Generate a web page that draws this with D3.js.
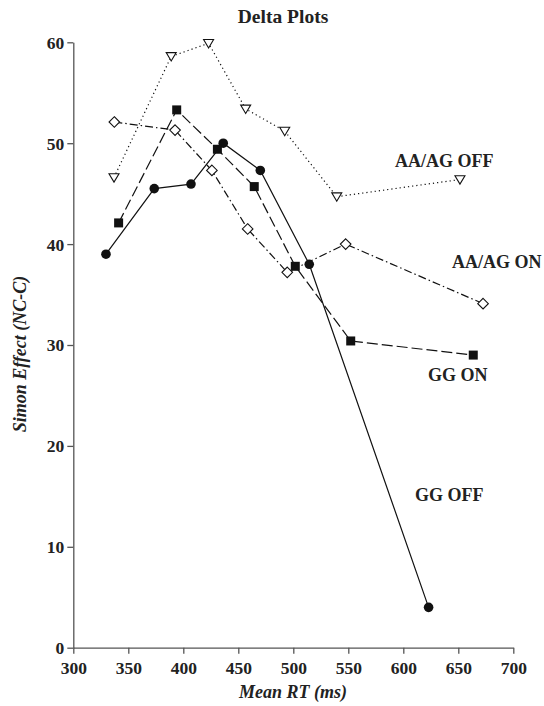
<!DOCTYPE html>
<html>
<head>
<meta charset="utf-8">
<script src="https://cdn.jsdelivr.net/npm/d3@7"></script>
<style>
  body { margin: 0; background: #fff; }
  svg text { font-family: "Liberation Serif", "Times New Roman", serif; font-weight: bold; fill: #222; }
</style>
</head>
<body>
<svg id="chart" width="544" height="706"></svg>
<script>
const xTicks = [300, 350, 400, 450, 500, 550, 600, 650, 700];
const yTicks = [0, 10, 20, 30, 40, 50, 60];

const ggOffRT = [329.7, 373.6, 407, 436.3, 470, 514.5, 623];
const ggOffEffect = [39.0, 45.5, 45.95, 50.0, 47.3, 38.0, 4.0];

const ggOnRT = [341.2, 394, 431, 464.5, 501.8, 552.2, 663.6];
const ggOnEffect = [42.1, 53.3, 49.4, 45.7, 37.8, 30.4, 29.0];

const aaOnRT = [337.3, 392.5, 426, 458.5, 494.5, 547.6, 672.5];
const aaOnEffect = [52.1, 51.3, 47.3, 41.5, 37.2, 40.0, 34.1];

const aaOffRT = [337, 389, 423, 456.7, 492.2, 539.5, 651.5];
const aaOffEffect = [46.6, 58.6, 59.9, 53.4, 51.2, 44.7, 46.4];

const seriesNames = ["GG OFF", "GG ON", "AA/AG ON", "AA/AG OFF"];

const svg = d3.select("#chart");

const x = d3.scaleLinear().domain([300, 700]).range([73.3, 513.3]);
const y = d3.scaleLinear().domain([0, 60]).range([647.7, 42.3]);

const series = [
  { name: seriesNames[0], rt: ggOffRT, eff: ggOffEffect, dash: null, marker: "circle", label: [610.6, 14.5] },
  { name: seriesNames[1], rt: ggOnRT, eff: ggOnEffect, dash: "11,4", marker: "square", label: [622.5, 26.4] },
  { name: seriesNames[2], rt: aaOnRT, eff: aaOnEffect, dash: "8,3,1.5,3", marker: "diamond", label: [644.3, 37.6] },
  { name: seriesNames[3], rt: aaOffRT, eff: aaOffEffect, dash: "1.2,3", marker: "triangle", label: [592.4, 47.6] }
];

// axes
const xAxis = d3.axisBottom(x).tickValues(xTicks).tickSize(6).tickSizeOuter(0).tickPadding(5);
const yAxis = d3.axisLeft(y).tickValues(yTicks).tickSize(6).tickSizeOuter(0).tickPadding(6);

const gx = svg.append("g").attr("transform", `translate(0,${y(0)})`).call(xAxis);
const gy = svg.append("g").attr("transform", `translate(${x(300)},0)`).call(yAxis);

[gx, gy].forEach((g) => {
  g.select(".domain").attr("stroke", "#555").attr("stroke-width", 1.3);
  g.selectAll(".tick line").attr("stroke", "#555").attr("stroke-width", 1.3);
  g.selectAll(".tick text")
    .attr("font-size", 17.5)
    .attr("font-family", "Liberation Serif, serif")
    .attr("font-weight", "bold")
    .attr("fill", "#222");
});
gx.selectAll(".tick text").attr("dy", "0.9em");
gy.selectAll(".tick text").attr("dy", "0.34em").attr("x", -9);

// lines
const line = d3.line().x((d) => x(d[0])).y((d) => y(d[1]));

series.forEach((s) => {
  const pts = s.rt.map((v, i) => [v, s.eff[i]]);
  svg.append("path")
    .datum(pts)
    .attr("d", line)
    .attr("fill", "none")
    .attr("stroke", "#111")
    .attr("stroke-width", 1.2)
    .attr("stroke-dasharray", s.dash);
});

// markers
series.forEach((s) => {
  const pts = s.rt.map((v, i) => [v, s.eff[i]]);
  const g = svg.append("g");
  pts.forEach((p) => {
    const cx = x(p[0]), cy = y(p[1]);
    if (s.marker === "circle") {
      g.append("circle").attr("cx", cx).attr("cy", cy).attr("r", 4.8).attr("fill", "#111");
    } else if (s.marker === "square") {
      g.append("rect").attr("x", cx - 4.5).attr("y", cy - 4.5).attr("width", 9).attr("height", 9).attr("fill", "#111");
    } else if (s.marker === "diamond") {
      g.append("path")
        .attr("d", `M${cx},${cy - 5.3}L${cx + 5.3},${cy}L${cx},${cy + 5.3}L${cx - 5.3},${cy}Z`)
        .attr("fill", "#fff").attr("stroke", "#111").attr("stroke-width", 1.1);
    } else {
      g.append("path")
        .attr("d", `M${cx - 5},${cy - 3.8}L${cx + 5},${cy - 3.8}L${cx},${cy + 4.6}Z`)
        .attr("fill", "#fff").attr("stroke", "#111").attr("stroke-width", 1.1);
    }
  });
  svg.append("text")
    .attr("x", x(s.label[0]))
    .attr("y", y(s.label[1]))
    .attr("font-size", 18)
    .text(s.name);
});

// titles
svg.append("text")
  .attr("x", 283)
  .attr("y", 23)
  .attr("text-anchor", "middle")
  .attr("font-size", 19.5)
  .text("Delta Plots");

svg.append("text")
  .attr("x", 293)
  .attr("y", 698)
  .attr("text-anchor", "middle")
  .attr("font-size", 18)
  .attr("font-style", "italic")
  .text("Mean RT (ms)");

svg.append("text")
  .attr("transform", "translate(26,354) rotate(-90)")
  .attr("text-anchor", "middle")
  .attr("font-size", 18)
  .attr("font-style", "italic")
  .text("Simon Effect (NC-C)");
</script>
</body>
</html>
